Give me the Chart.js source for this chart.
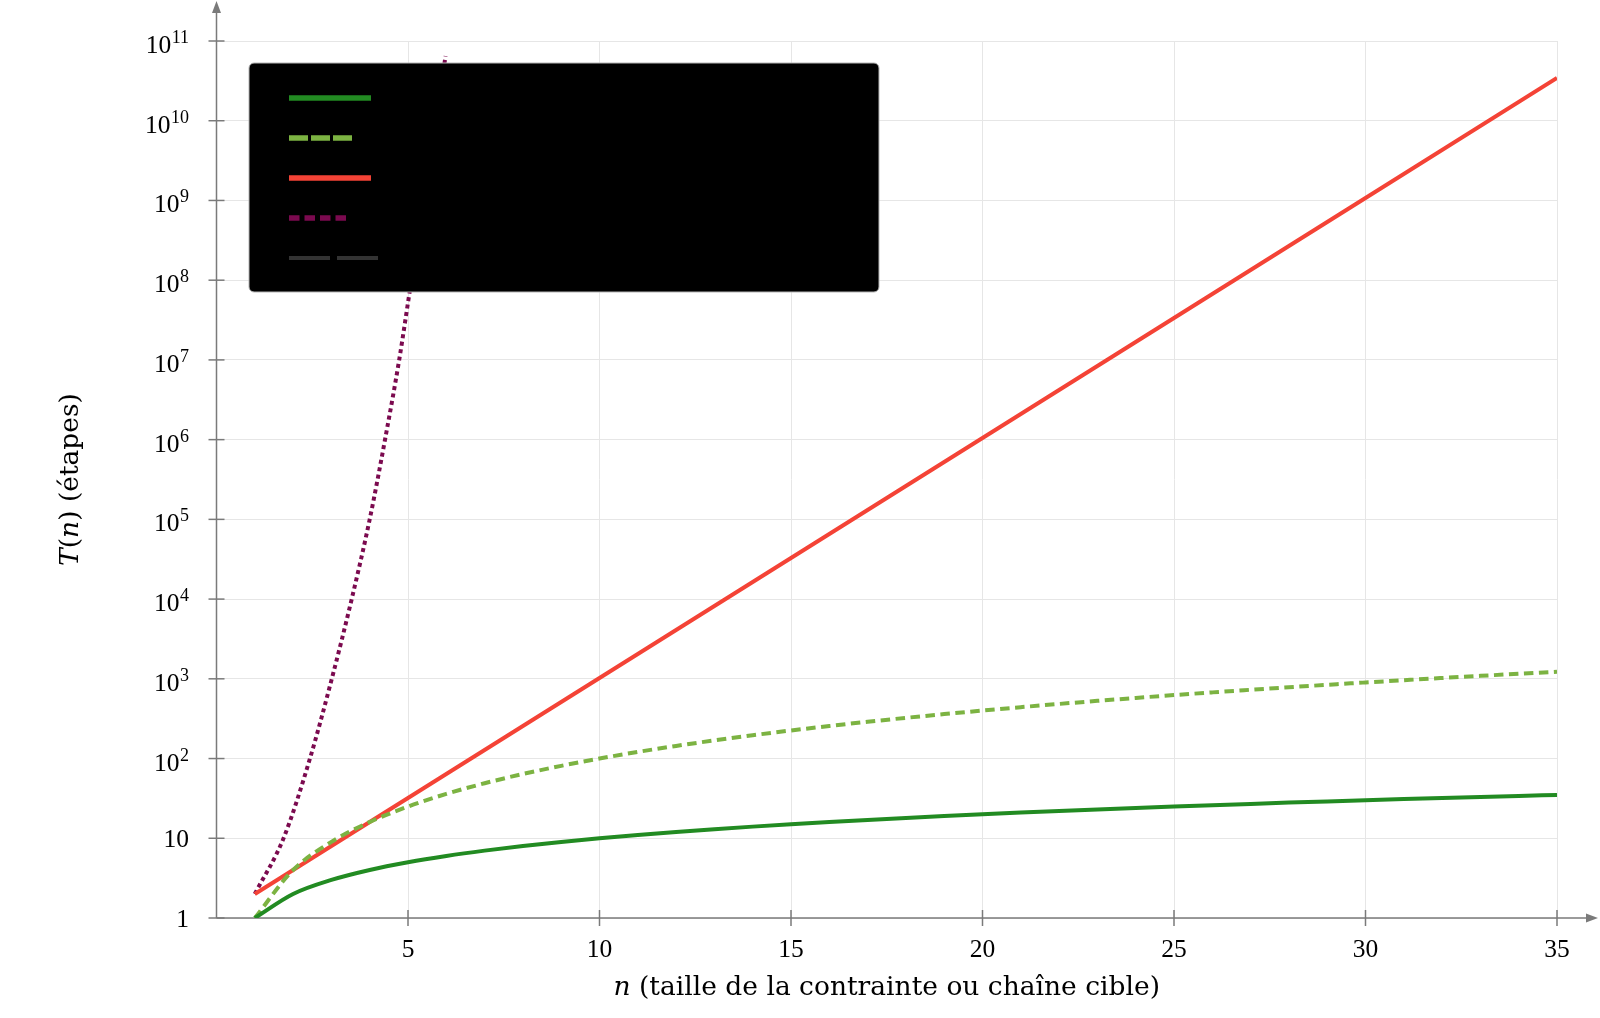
<!DOCTYPE html>
<html lang="fr">
<head>
    <meta charset="UTF-8">
    <title>Croissance de T(n)</title>
    <script src="https://cdn.jsdelivr.net/npm/chart.js"></script>
    <style>
        html, body { margin: 0; padding: 0; background: #fff; }
        #wrap { width: 1600px; height: 1018px; }
    </style>
</head>
<body>
    <div id="wrap"><canvas id="myChart" width="1600" height="1018"></canvas></div>

    <script>
        // abscisses communes (n entier)
        const nValues = [1, 2, 3, 4, 5, 6, 7, 8, 9, 10, 11, 12, 13, 14, 15, 16, 17, 18, 19, 20,
                         21, 22, 23, 24, 25, 26, 27, 28, 29, 30, 31, 32, 33, 34, 35];
        const linearSteps = [1, 2, 3, 4, 5, 6, 7, 8, 9, 10, 11, 12, 13, 14, 15, 16, 17, 18, 19, 20,
                             21, 22, 23, 24, 25, 26, 27, 28, 29, 30, 31, 32, 33, 34, 35];
        const quadSteps = [1, 4, 9, 16, 25, 36, 49, 64, 81, 100, 121, 144, 169, 196, 225, 256, 289, 324, 361, 400,
                           441, 484, 529, 576, 625, 676, 729, 784, 841, 900, 961, 1024, 1089, 1156, 1225];
        // droite rouge (exponentielle)
        const expN = [1, 5, 10, 15, 20, 25, 30, 35];
        const expSteps = [2, 32, 1024, 32768, 1048576, 33554432, 1073741824, 34359738368];
        // courbe pointillée violette
        const superN = [1, 1.75, 2.44, 3.01, 3.53, 4.0, 4.4, 4.77, 5.09, 5.5, 5.98];
        const superSteps = [2, 10, 100, 1e3, 1e4, 1e5, 1e6, 1e7, 1e8, 1.6e9, 6.5e10];

        const seriesLabels = ['T(n) = n', 'T(n) = n²', 'T(n) = 2ⁿ', 'T(n) = 2^(n²)', 'Limite pratique'];

        const xTicks = [5, 10, 15, 20, 25, 30, 35];
        const yTicks = [1, 1e1, 1e2, 1e3, 1e4, 1e5, 1e6, 1e7, 1e8, 1e9, 1e10, 1e11];
        // base et exposant de chaque graduation
        const yTickBases = ['1', '10', '10', '10', '10', '10', '10', '10', '10', '10', '10', '10'];
        const yTickExps = ['', '', '2', '3', '4', '5', '6', '7', '8', '9', '10', '11'];

        const FONT = '"Liberation Serif", "DejaVu Serif", serif';
        const TITLE_FONT = '"DejaVu Serif", "Liberation Serif", serif';
        const AXIS_GRAY = '#7a7a7a';

        function pts(xs, ys) {
            return xs.map(function(x, i) { return { x: x, y: ys[i] }; });
        }

        // texte avec parties en italique
        function drawRich(ctx, parts, x, y) {
            let total = 0;
            parts.forEach(function(p) {
                ctx.font = (p.italic ? 'italic ' : '') + '26.5px ' + TITLE_FONT;
                p.w = ctx.measureText(p.text).width;
                total += p.w;
            });
            let cx = x - total / 2;
            ctx.textAlign = 'left';
            ctx.textBaseline = 'middle';
            parts.forEach(function(p) {
                ctx.font = (p.italic ? 'italic ' : '') + '26.5px ' + TITLE_FONT;
                ctx.fillText(p.text, cx, y);
                cx += p.w;
            });
        }

        const axesPlugin = {
            id: 'axesPlugin',
            beforeDatasetsDraw: function(chart) {
                const ctx = chart.ctx;
                const xs = chart.scales.x, ys = chart.scales.y;
                const x0 = xs.getPixelForValue(0);
                const y0 = ys.getPixelForValue(1);
                ctx.save();
                ctx.strokeStyle = AXIS_GRAY;
                ctx.fillStyle = AXIS_GRAY;
                ctx.lineWidth = 1.5;
                // ticks qui traversent les axes
                xTicks.forEach(function(v) {
                    const px = xs.getPixelForValue(v);
                    ctx.beginPath(); ctx.moveTo(px, y0 - 8); ctx.lineTo(px, y0 + 8); ctx.stroke();
                });
                yTicks.forEach(function(v) {
                    const py = ys.getPixelForValue(v);
                    ctx.beginPath(); ctx.moveTo(x0 - 8, py); ctx.lineTo(x0 + 8, py); ctx.stroke();
                });
                // axes avec flèches
                ctx.beginPath(); ctx.moveTo(x0, y0); ctx.lineTo(1590, y0); ctx.stroke();
                ctx.beginPath(); ctx.moveTo(x0, y0); ctx.lineTo(x0, 9); ctx.stroke();
                ctx.beginPath();
                ctx.moveTo(1598, y0); ctx.lineTo(1586, y0 - 4.5); ctx.lineTo(1586, y0 + 4.5); ctx.closePath(); ctx.fill();
                ctx.beginPath();
                ctx.moveTo(x0, 1); ctx.lineTo(x0 - 4.5, 13); ctx.lineTo(x0 + 4.5, 13); ctx.closePath(); ctx.fill();
                ctx.restore();
            },
            afterDatasetsDraw: function(chart) {
                // légende sur fond noir
                const ctx = chart.ctx;
                const bx = 249, by = 63, bw = 630, bh = 229;
                const styles = [
                    { width: 5.5, dash: [], len: 82 },
                    { width: 5.5, dash: [19, 3], len: 63 },
                    { width: 5.5, dash: [], len: 82 },
                    { width: 5.5, dash: [10.5, 5], len: 57 },
                    { width: 4, dash: [41, 7], len: 89 }
                ];
                ctx.save();
                ctx.beginPath();
                ctx.roundRect(bx, by, bw, bh, 5);
                ctx.fillStyle = '#000';
                ctx.fill();
                ctx.strokeStyle = '#b5b5b5';
                ctx.lineWidth = 1;
                ctx.stroke();
                chart.data.datasets.forEach(function(ds, i) {
                    const st = styles[i];
                    const yy = 98 + i * 40;
                    ctx.strokeStyle = ds.borderColor;
                    ctx.lineWidth = st.width;
                    ctx.lineCap = 'butt';
                    ctx.setLineDash(st.dash);
                    ctx.beginPath(); ctx.moveTo(289, yy); ctx.lineTo(289 + st.len, yy); ctx.stroke();
                    ctx.setLineDash([]);
                    ctx.fillStyle = '#000';
                    ctx.font = '22px ' + FONT;
                    ctx.textAlign = 'left';
                    ctx.textBaseline = 'middle';
                    ctx.fillText(ds.label, 400, yy);
                });
                ctx.restore();
            },
            afterDraw: function(chart) {
                const ctx = chart.ctx;
                const a = chart.chartArea;
                const ys = chart.scales.y;
                ctx.save();
                ctx.fillStyle = '#000';
                // graduations de l'axe y : 10 avec exposant
                ctx.textBaseline = 'alphabetic';
                ctx.textAlign = 'right';
                yTicks.forEach(function(v, i) {
                    const py = ys.getPixelForValue(v);
                    const right = 189;
                    if (yTickExps[i]) {
                        ctx.font = '18px ' + FONT;
                        const ew = ctx.measureText(yTickExps[i]).width;
                        ctx.fillText(yTickExps[i], right, py + 2);
                        ctx.font = '25.5px ' + FONT;
                        ctx.fillText(yTickBases[i], right - ew - 0.5, py + 12);
                    } else {
                        ctx.font = '25.5px ' + FONT;
                        ctx.fillText(yTickBases[i], right, py + 9);
                    }
                });
                drawRich(ctx, [
                    { text: 'n', italic: true },
                    { text: ' (taille de la contrainte ou chaîne cible)' }
                ], (a.left + a.right) / 2, 988);
                ctx.translate(71, (a.top + a.bottom) / 2);
                ctx.rotate(-Math.PI / 2);
                drawRich(ctx, [
                    { text: 'T', italic: true },
                    { text: '(' },
                    { text: 'n', italic: true },
                    { text: ') (étapes)' }
                ], 0, 0);
                ctx.restore();
            }
        };

        const data = {
            datasets: [{
                label: seriesLabels[0],
                data: pts(nValues, linearSteps),
                borderColor: '#228b22',
                borderWidth: 4,
                cubicInterpolationMode: 'monotone'
            }, {
                label: seriesLabels[1],
                data: pts(nValues, quadSteps),
                borderColor: '#7cb342',
                borderWidth: 4,
                borderDash: [9.5, 5.5],
                cubicInterpolationMode: 'monotone'
            }, {
                label: seriesLabels[2],
                data: pts(expN, expSteps),
                borderColor: '#f44336',
                borderWidth: 4
            }, {
                label: seriesLabels[3],
                data: pts(superN, superSteps),
                borderColor: '#7b0a4f',
                borderWidth: 4,
                borderDash: [4, 3.5],
                cubicInterpolationMode: 'monotone'
            }, {
                label: seriesLabels[4],
                data: [],
                borderColor: '#333333',
                borderWidth: 2,
                borderDash: [12, 6]
            }]
        };

        const config = {
            type: 'line',
            data: data,
            options: {
                responsive: false,
                animation: false,
                devicePixelRatio: 1,
                layout: { padding: { left: 0, right: 43, top: 41, bottom: 0 } },
                elements: { point: { radius: 0 }, line: { tension: 0, fill: false } },
                plugins: { legend: { display: false }, tooltip: { enabled: false } },
                scales: {
                    x: {
                        type: 'linear',
                        min: 0,
                        max: 35,
                        afterBuildTicks: function(s) { s.ticks = xTicks.map(function(v) { return { value: v }; }); },
                        afterFit: function(s) { s.height = 100; },
                        grid: { color: '#e6e6e6', lineWidth: 1, drawTicks: false },
                        border: { display: false },
                        ticks: {
                            color: '#000',
                            font: { family: FONT, size: 25.5 },
                            padding: 17,
                            maxRotation: 0,
                            autoSkip: false
                        }
                    },
                    y: {
                        type: 'logarithmic',
                        min: 1,
                        max: 1e11,
                        afterBuildTicks: function(s) { s.ticks = yTicks.map(function(v) { return { value: v }; }); },
                        afterFit: function(s) { s.width = 216.5; },
                        grid: { color: '#e6e6e6', lineWidth: 1, drawTicks: false },
                        border: { display: false },
                        ticks: { display: false }
                    }
                }
            },
            plugins: [axesPlugin]
        };

        const myChart = new Chart(document.getElementById('myChart'), config);
    </script>
</body>
</html>
